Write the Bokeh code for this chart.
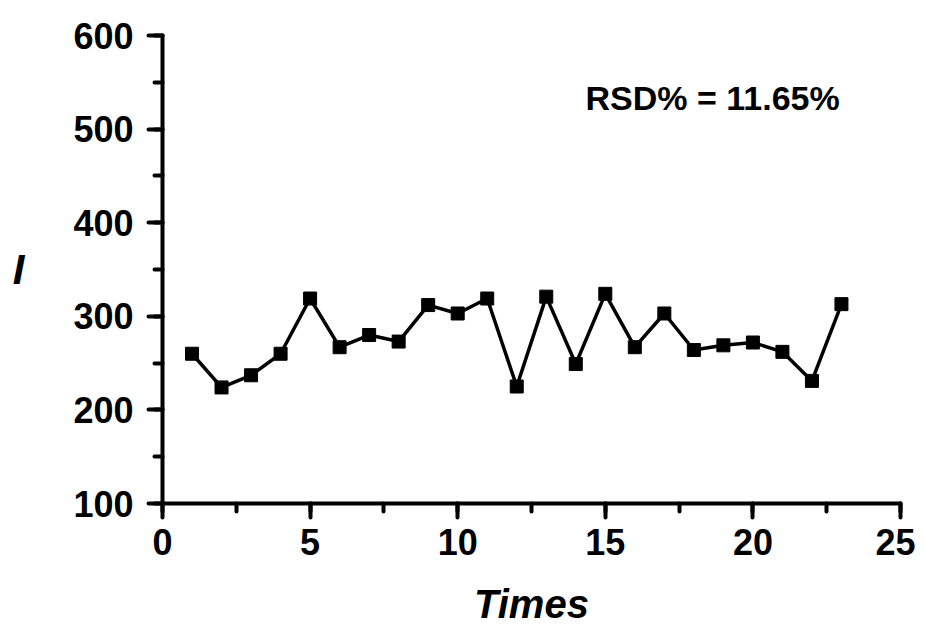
from bokeh.plotting import figure
from bokeh.models import Range1d, SingleIntervalTicker, Label
from bokeh.embed import file_html
from bokeh.resources import INLINE

times = list(range(1, 24))
intensity = [260, 224, 237, 260, 319, 267, 280, 273, 312, 303, 319, 225,
             321, 249, 324, 267, 303, 264, 269, 272, 262, 231, 313]
rsd_text = "RSD% = 11.65%"
x_title = "Times"
y_title = "I"

W, H = 915, 628
p = figure(width=W, height=H, output_backend="svg", toolbar_location=None,
           x_range=Range1d(0, 25), y_range=Range1d(100, 600),
           min_border_left=162, min_border_right=15, min_border_top=35,
           min_border_bottom=H - 503)
p.outline_line_color = None
p.grid.visible = False
p.background_fill_color = "white"
p.border_fill_color = "white"

p.line(times, intensity, line_color="black", line_width=3.5)
p.scatter(times, intensity, marker="square", size=13, color="black")

font = "Liberation Sans"
p.xaxis.ticker = SingleIntervalTicker(interval=5, num_minor_ticks=2)
p.yaxis.ticker = SingleIntervalTicker(interval=100, num_minor_ticks=2)
for ax in (p.xaxis[0], p.yaxis[0]):
    ax.axis_line_width = 4
    ax.axis_line_color = "black"
    ax.axis_line_cap = "round"
    ax.major_tick_line_width = 4
    ax.minor_tick_line_width = 4
    ax.major_tick_line_cap = "round"
    ax.minor_tick_line_cap = "round"
    ax.major_tick_out = 14
    ax.major_tick_in = 0
    ax.minor_tick_out = 8
    ax.minor_tick_in = 0
    ax.major_label_text_font = font
    ax.major_label_text_font_style = "bold"
    ax.major_label_text_font_size = "36px"
    ax.major_label_text_color = "black"
    ax.axis_label_text_font = font
    ax.axis_label_text_font_style = "bold italic"
    ax.axis_label_text_color = "black"

p.xaxis.axis_label = x_title
p.xaxis.axis_label_text_font_size = "40px"
p.xaxis.major_label_standoff = 11
p.xaxis.axis_label_standoff = 24
p.yaxis.axis_label = y_title
p.yaxis.axis_label_text_font_size = "42px"
p.yaxis.axis_label_orientation = "horizontal"
p.yaxis.major_label_standoff = 15
p.yaxis.axis_label_standoff = 46

p.add_layout(Label(x=14.33, y=533, text=rsd_text, text_font=font,
                   text_font_style="bold", text_font_size="34px",
                   text_color="black", text_baseline="middle"))

open("out.html", "w").write(file_html(p, INLINE))
